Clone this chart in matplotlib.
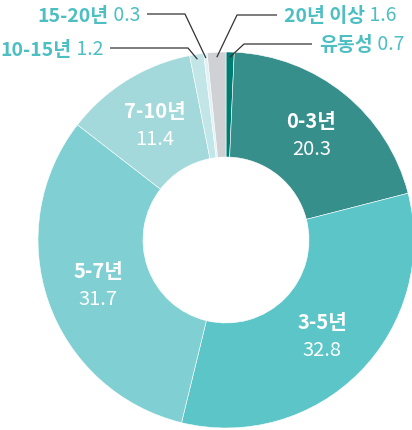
import numpy as np
import matplotlib
matplotlib.use("Agg")
import matplotlib.pyplot as plt

plt.rcParams['font.family'] = ['Noto Sans CJK KR', 'DejaVu Sans']

# 만기별 비중 (%)
labels = ["유동성", "0-3년", "3-5년", "5-7년", "7-10년", "10-15년", "15-20년", "20년 이상"]
values = [0.7, 20.3, 32.8, 31.7, 11.4, 1.2, 0.3, 1.6]
colors = ["#007d72", "#368f8b", "#5bc5c8", "#80d0d3", "#a3d9db", "#c2e6e8", "#e0f2f3", "#cfd1d4"]

inner = [1, 2, 3, 4]          # 도넛 안에 표시
outer = [0, 7, 6, 5]          # 지시선으로 표시

teal = "#4dbec2"

fig = plt.figure(figsize=(4.12, 4.31), dpi=100)
ax = fig.add_axes([0, 0, 1, 1])

R = 188
W = 105
wedges, _ = ax.pie(values, colors=colors, radius=R, startangle=90, counterclock=False,
                   wedgeprops=dict(width=W, edgecolor='white', linewidth=0.4))
# pie()가 축 범위를 덮어쓰므로 그 뒤에 지정
ax.set_xlim(-226, 186)
ax.set_ylim(-190, 241)
ax.set_aspect('equal')
ax.axis('off')

fs_in = 14.5
fs_out = 14

# 안쪽 라벨
for i in inner:
    w = wedges[i]
    ang = np.deg2rad((w.theta1 + w.theta2) / 2)
    r = R - W / 2
    x, y = r * np.cos(ang), r * np.sin(ang)
    ax.text(x, y + 14, labels[i], color='white', fontsize=fs_in, fontweight='bold',
            ha='center', va='center')
    ax.text(x, y - 14, f"{values[i]}", color='white', fontsize=fs_in,
            ha='center', va='center')

# 바깥 라벨: (팔꿈치 점, 수평선 끝, 방향)
elbows = {0: ((18, 196), 86, 1), 7: ((11, 225), 51, 1),
          6: ((-41, 226), -79, -1), 5: ((-38, 192), -116, -1)}
for i in outer:
    w = wedges[i]
    ang = np.deg2rad((w.theta1 + w.theta2) / 2)
    x0, y0 = 183 * np.cos(ang), 183 * np.sin(ang)
    (ex, ey), hx, d = elbows[i]
    ax.plot([x0, ex, hx], [y0, ey, ey], color='#333333', lw=0.9, solid_capstyle='butt')
    if d > 0:
        t = ax.text(hx + 7, ey, labels[i], color=teal, fontsize=fs_out, fontweight='bold',
                    ha='left', va='center')
        ax.annotate(f" {values[i]}", xy=(1, 0), xycoords=t, color=teal, fontsize=fs_out,
                    ha='left', va='bottom')
    else:
        t = ax.text(hx - 7, ey, f" {values[i]}", color=teal, fontsize=fs_out,
                    ha='right', va='center')
        ax.annotate(labels[i], xy=(0, 0), xycoords=t, color=teal, fontsize=fs_out,
                    fontweight='bold', ha='right', va='bottom')

fig.savefig("out.png", dpi=100)
